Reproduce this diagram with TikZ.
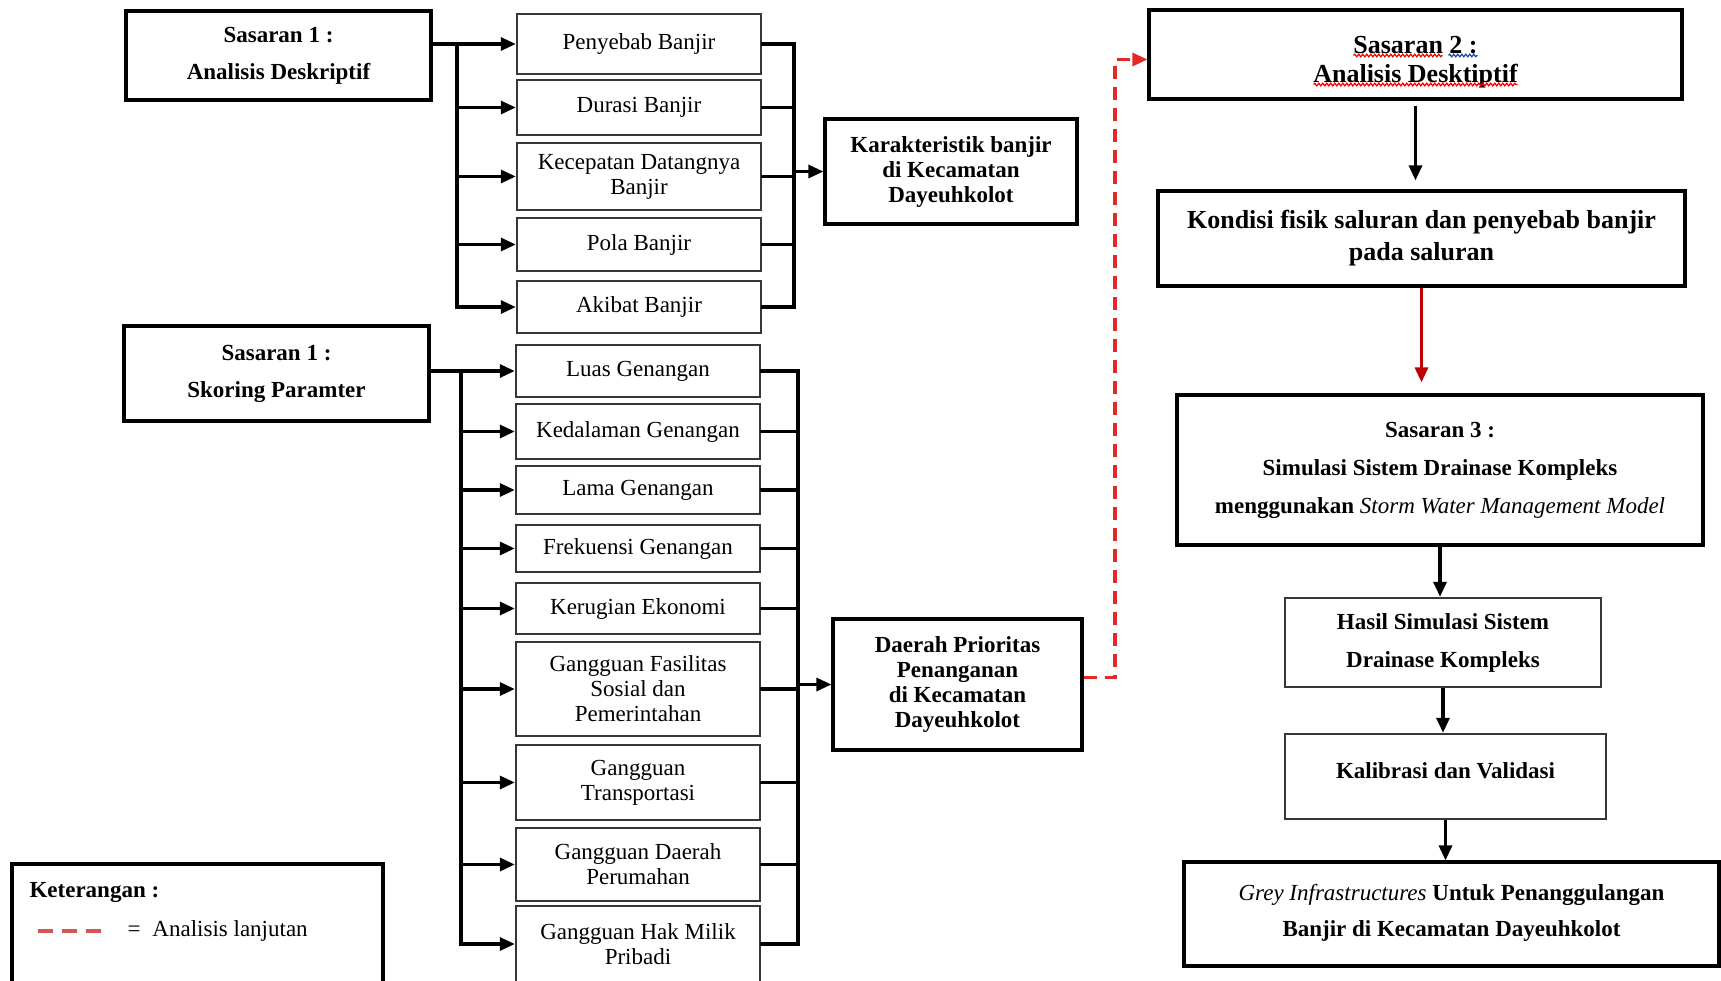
\documentclass[tikz,border=0pt]{standalone}
\usepackage{fontspec}
\setmainfont{Liberation Serif}
\usepackage{tikz}
\usetikzlibrary{arrows.meta, positioning, calc, decorations.pathmorphing}
\definecolor{boxgray}{RGB}{55,55,55}
\definecolor{flowred}{RGB}{190,0,0}
\definecolor{dashred}{RGB}{228,40,40}
\definecolor{keyred}{RGB}{215,85,85}
\definecolor{spellblue}{RGB}{40,70,170}
\tikzset{
  goalbox/.style={rectangle, draw, line width=3.2pt, align=center, inner sep=3pt,
    font=\bfseries\fontsize{23}{37}\selectfont},
  outcomebox/.style={goalbox, font=\bfseries\fontsize{23}{25}\selectfont},
  itembox/.style={rectangle, draw=boxgray, line width=2.4pt, minimum width=244pt,
    align=center, inner sep=2pt, font=\fontsize{23}{25}\selectfont},
  stagebox/.style={itembox, font=\bfseries\fontsize{23}{38}\selectfont},
  wire/.style={line width=3.2pt, line cap=rect},
  arrow/.style={line width=3.2pt, -{Triangle[length=15pt, width=13pt]}},
  redarrow/.style={arrow, color=flowred},
  dasharrow/.style={arrow, color=dashred, dash pattern=on 13pt off 8pt},
  spellmark/.style={line width=1.2pt, decorate,
    decoration={snake, amplitude=1.3pt, segment length=4pt}},
}

\begin{document}
\begin{tikzpicture}[x=1pt, y=-1pt]
  \useasboundingbox (0,0) rectangle (1721,980);

  % sasaran 1
  \node[goalbox, minimum width=305pt, minimum height=89pt] (desc) at (278.5,55.5)
    {Sasaran 1 :\\Analisis Deskriptif};
  \node[goalbox, minimum width=305pt, minimum height=95pt] (skor) at (276.5,373.5)
    {Sasaran 1 :\\Skoring Paramter};

  \node[itembox, minimum height=60pt] (pny) at (639,44) {Penyebab Banjir};
  \node[itembox, minimum height=55pt] (dur) at (639,107.5) {Durasi Banjir};
  \node[itembox, minimum height=67pt] (kec) at (639,176.5) {Kecepatan Datangnya\\Banjir};
  \node[itembox, minimum height=53pt] (pol) at (639,244.5) {Pola Banjir};
  \node[itembox, minimum height=52pt] (akb) at (639,307) {Akibat Banjir};

  \node[itembox, minimum height=52pt] (luas) at (638,371) {Luas Genangan};
  \node[itembox, minimum height=55pt] (dalam) at (638,431.5) {Kedalaman Genangan};
  \node[itembox, minimum height=48pt] (lama) at (638,490) {Lama Genangan};
  \node[itembox, minimum height=47pt] (frek) at (638,548.5) {Frekuensi Genangan};
  \node[itembox, minimum height=51pt] (rugi) at (638,608.5) {Kerugian Ekonomi};
  \node[itembox, minimum height=94pt] (fasil) at (638,689) {Gangguan Fasilitas\\Sosial dan\\Pemerintahan};
  \node[itembox, minimum height=75pt] (trans) at (638,782.5) {Gangguan\\Transportasi};
  \node[itembox, minimum height=73pt] (rumah) at (638,864.5) {Gangguan Daerah\\Perumahan};
  \node[itembox, minimum height=76pt] (milik) at (638,944) {Gangguan Hak Milik\\Pribadi};

  \node[outcomebox, minimum width=252pt, minimum height=105pt] (kar) at (951,171.5)
    {Karakteristik banjir\\di Kecamatan\\Dayeuhkolot};
  \node[outcomebox, minimum width=249pt, minimum height=131pt] (prior) at (957.5,684.5)
    {Daerah Prioritas\\Penanganan\\di Kecamatan\\Dayeuhkolot};

  \coordinate (trunkA) at (457,0);
  \coordinate (brackA) at (794,0);
  \coordinate (trunkB) at (461,0);
  \coordinate (brackB) at (798,0);
  \coordinate (lane) at (1115,0);

  \draw[arrow] (desc.east |- pny.west) -- (pny.west);
  \draw[wire] (trunkA |- pny.west) -- (trunkA |- akb.west);
  \foreach \n in {dur,kec,pol,akb}
    \draw[arrow] (trunkA |- \n.west) -- (\n.west);
  \foreach \n in {pny,dur,kec,pol,akb}
    \draw[wire] (\n.east) -- (brackA |- \n.east);
  \draw[wire] (brackA |- pny.east) -- (brackA |- akb.east);
  \draw[arrow] (brackA |- kar.west) -- (kar.west);

  \draw[arrow] (skor.east |- luas.west) -- (luas.west);
  \draw[wire] (trunkB |- luas.west) -- (trunkB |- milik.west);
  \foreach \n in {dalam,lama,frek,rugi,fasil,trans,rumah,milik}
    \draw[arrow] (trunkB |- \n.west) -- (\n.west);
  \foreach \n in {luas,dalam,lama,frek,rugi,fasil,trans,rumah,milik}
    \draw[wire] (\n.east) -- (brackB |- \n.east);
  \draw[wire] (brackB |- luas.east) -- (brackB |- milik.east);
  \draw[arrow] (brackB |- prior.west) -- (prior.west);

  % sasaran 2 dan 3
  \node[goalbox, minimum width=533pt, minimum height=89pt,
        font=\bfseries\fontsize{26}{29}\selectfont] (s2) at (1415.5,54.5)
    {\rule{0pt}{32pt}Sasaran 2 :\\Analisis Desktiptif};
  \draw[spellmark, red] ($(s2.center)+(-62,1)$) -- ($(s2.center)+(27,1)$);
  \draw[spellmark, spellblue] ($(s2.center)+(33,1)$) -- ($(s2.center)+(62,1)$);
  \draw[spellmark, red] ($(s2.center)+(-102,30)$) -- ($(s2.center)+(102,30)$);
  \node[goalbox, minimum width=527pt, minimum height=95pt,
        font=\bfseries\fontsize{26}{32}\selectfont] (kond) at (1421.5,238.5)
    {Kondisi fisik saluran dan penyebab banjir\\pada saluran};
  \node[goalbox, minimum width=526pt, minimum height=150pt,
        font=\bfseries\fontsize{23}{38}\selectfont] (s3) at (1440,470)
    {Sasaran 3 :\\Simulasi Sistem Drainase Kompleks\\menggunakan {\mdseries\itshape Storm Water Management Model}};
  \node[stagebox, minimum width=316pt, minimum height=89pt] (hasil) at (1443,642.5)
    {Hasil Simulasi Sistem\\Drainase Kompleks};
  \node[stagebox, minimum width=321pt, minimum height=85pt] (kalib) at (1445.5,776.5)
    {Kalibrasi dan Validasi\rule[-11pt]{0pt}{11pt}};
  \node[goalbox, minimum width=535pt, minimum height=104pt,
        font=\bfseries\fontsize{23}{36}\selectfont] (grey) at (1451.5,914)
    {{\mdseries\itshape Grey Infrastructures} Untuk Penanggulangan\\Banjir di Kecamatan Dayeuhkolot\rule[-8pt]{0pt}{8pt}};

  \coordinate (priorOut) at ([yshift=7pt]prior.east);
  \coordinate (s2In) at ([yshift=-5pt]s2.west);
  \draw[dasharrow] (priorOut) -- (lane |- priorOut) -- (lane |- s2In) -- (s2In);
  \draw[arrow, shorten <=5pt, shorten >=9pt] (s2.south) -- (s2.south |- kond.north);
  \draw[redarrow, shorten >=11pt] (kond.south) -- (kond.south |- s3.north);
  \draw[arrow] (s3.south) -- (s3.south |- hasil.north);
  \draw[arrow] (hasil.south) -- (hasil.south |- kalib.north);
  \draw[arrow] (kalib.south) -- (kalib.south |- grey.north);

  % keterangan
  \node[rectangle, draw, line width=3.2pt, minimum width=371pt, minimum height=132pt] (key) at (197.5,930) {};
  \node[anchor=west, font=\bfseries\fontsize{23}{25}\selectfont] (keytitle) at (26,892) {Keterangan :};
  \coordinate (keyA) at (38,931);
  \coordinate (keyB) at (108,931);
  \draw[keyred, line width=4pt, dash pattern=on 15pt off 9pt] (keyA) -- (keyB);
  \node[anchor=west, font=\fontsize{23}{25}\selectfont] (keytext) at (124,931) {=\hspace{12pt}Analisis lanjutan};
\end{tikzpicture}
\end{document}
